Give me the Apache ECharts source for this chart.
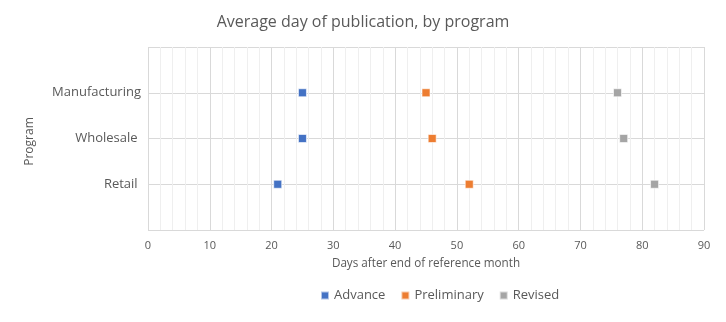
<!DOCTYPE html>
<html><head><meta charset="utf-8">
<script src="https://cdn.jsdelivr.net/npm/echarts@6/dist/echarts.min.js"></script>
<style>html,body{margin:0;padding:0;background:#fff}#c{width:726px;height:322px}</style>
</head><body><div id="c"></div>
<script>
const programs = ['Retail ', 'Wholesale ', 'Manufacturing'];
const programPos = [1, 2, 3];
const advance = [21, 25, 25];
const preliminary = [52, 46, 45];
const revised = [82, 77, 76];
const xTicks = [0, 10, 20, 30, 40, 50, 60, 70, 80, 90];

const font = 'Open Sans';
const grey = '#595959';
function pts(vals){ return vals.map((v,i)=>[v, programPos[i]]); }
const chart = echarts.init(document.getElementById('c'));
const mk = (name, vals, color) => ({
  name, type: 'scatter', data: pts(vals), symbol: 'rect', symbolSize: 8,
  itemStyle: { color, borderColor: 'rgba(255,255,255,0.6)', borderWidth: 1, opacity: 1 },
  z: 5
});
chart.setOption({
  animation: false,
  textStyle: { fontFamily: font },
  title: { text: 'Average day of publication, by program', left: 'center', top: 9,
    textStyle: { fontFamily: font, fontSize: 16, fontWeight: 'normal', color: grey } },
  grid: { left: 148, right: 22, top: 47, bottom: 92, containLabel: false },
  xAxis: { type: 'value', min: xTicks[0], max: xTicks[xTicks.length-1], interval: 10,
    name: 'Days after end of reference month', nameLocation: 'middle', nameGap: 28,
    nameTextStyle: { color: grey, fontSize: 11.7, fontFamily: font },
    axisLine: { show: false }, axisTick: { show: false },
    axisLabel: { color: grey, fontSize: 11, margin: 10 },
    splitLine: { show: true, lineStyle: { color: '#d9d9d9', width: 1 } },
    minorTick: { show: false, splitNumber: 5 },
    minorSplitLine: { show: true, lineStyle: { color: '#efefef', width: 1 } } },
  yAxis: { type: 'value', min: 0, max: 4, interval: 1,
    name: 'Program', nameLocation: 'middle', nameGap: 112, nameRotate: 90,
    nameTextStyle: { color: grey, fontSize: 12, fontFamily: font, padding: [0, 6, 0, 0] },
    axisLine: { show: false }, axisTick: { show: false },
    axisLabel: { color: grey, fontSize: 13, margin: 7,
      formatter: v => { const i = programPos.indexOf(v); return i >= 0 ? programs[i] : ''; } },
    splitLine: { show: true, lineStyle: { color: '#d9d9d9', width: 1 } } },
  legend: { bottom: 20, left: 320, padding: 0, itemWidth: 8, itemHeight: 8, itemGap: 15,
    icon: 'rect', textStyle: { color: grey, fontSize: 13, fontFamily: font },
    data: ['Advance', 'Preliminary', 'Revised'] },
  series: [
    mk('Advance', advance, '#4472C4'),
    mk('Preliminary', preliminary, '#ED7D31'),
    mk('Revised', revised, '#A5A5A5')
  ]
});
</script></body></html>
